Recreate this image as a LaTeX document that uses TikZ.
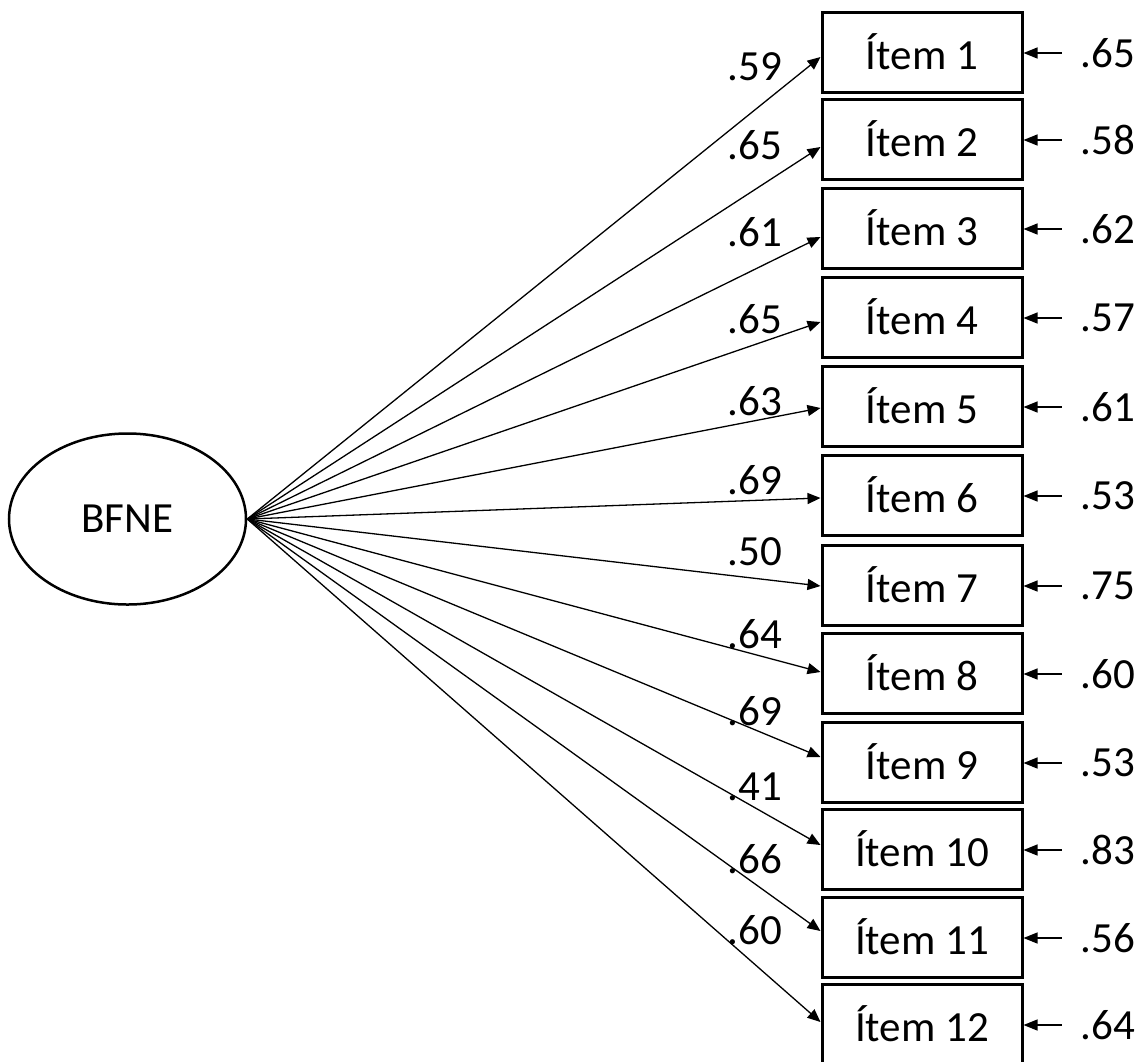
\documentclass[tikz,border=0pt]{standalone}
\usepackage{fontspec}
\setmainfont{Carlito}
\usetikzlibrary{arrows.meta,shapes.geometric}
\begin{document}
\begin{tikzpicture}[x=1pt,y=-1pt,
  every node/.style={font=\fontsize{43}{50}\selectfont},
  itembox/.style={draw,line width=3pt,minimum width=200pt,minimum height=80pt,inner sep=0pt},
  latent/.style={draw,ellipse,line width=2.5pt,minimum width=237pt,minimum height=171pt,inner sep=0pt},
  loadlab/.style={inner sep=0pt},
  reslab/.style={inner ysep=0pt,inner xsep=19pt},
  path/.style={line width=1.3pt,-{Triangle[length=13pt,width=11pt]}},
  respath/.style={line width=1.3pt,-{Triangle[length=14pt,width=11pt]}}
]
\useasboundingbox (0,0) rectangle (1143,1061);
\clip (0,0) rectangle (1143,1061);
\node[latent] (f) at (127.5,519) {BFNE};
\foreach \i/\y/\dy/\ly/\lv/\rv in {
  1/52/-5/67/.59/.65,
  2/139/-8/145/.65/.58,
  3/228/-9/232/.61/.62,
  4/317/-5/319/.65/.57,
  5/406/-2/401/.63/.61,
  6/495/-3/480/.69/.53,
  7/585/-1/552/.50/.75,
  8/673/1/634/.64/.60,
  9/762/5/711/.69/.53,
  10/849/4/787/.41/.83,
  11/937/6/859/.66/.56,
  12/1024/2/930/.60/.64}{
  \node[itembox] (b\i) at (922,\y) {Ítem \i};
  \node[loadlab] (l\i) at (755,\ly) {\lv};
  \node[reslab] (r\i) at (1108,\y+1) {\rv};
  \draw[path] (f.east) -- ([yshift=\dy pt]b\i.west);
  \draw[respath] (r\i.west) -- (r\i.west -| b\i.east);
}
\end{tikzpicture}
\end{document}
